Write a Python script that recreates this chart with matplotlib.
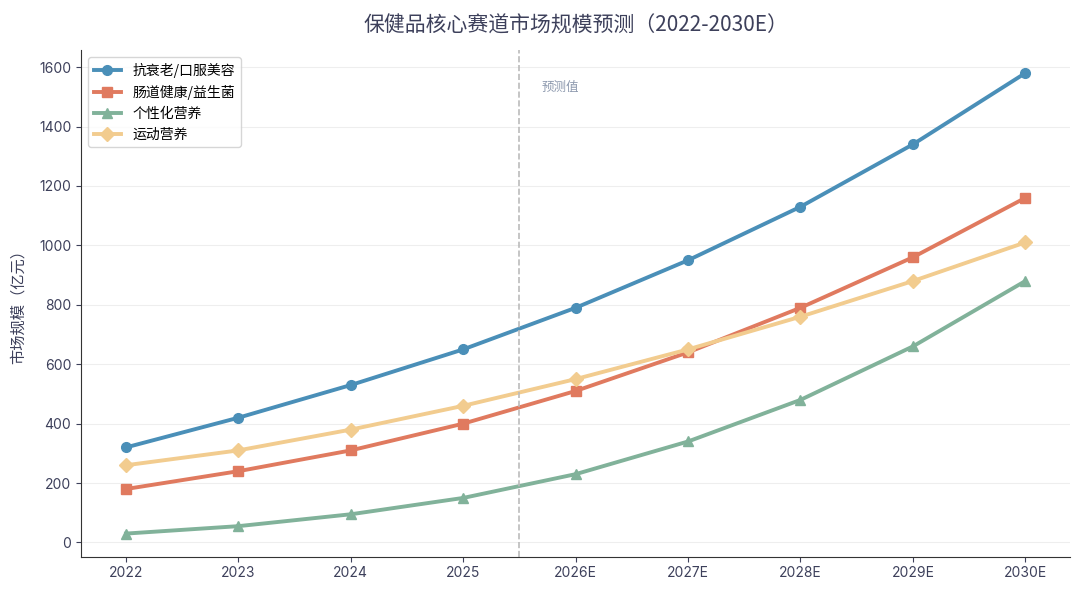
import matplotlib
matplotlib.use("Agg")
import matplotlib.pyplot as plt

plt.rcParams['font.family'] = ['Inter', 'Noto Sans CJK SC', 'DejaVu Sans']

years = ["2022", "2023", "2024", "2025", "2026E", "2027E", "2028E", "2029E", "2030E"]
anti_aging = [320, 420, 530, 650, 790, 950, 1130, 1340, 1580]
gut_health = [180, 240, 310, 400, 510, 640, 790, 960, 1160]
personalized = [30, 55, 95, 150, 230, 340, 480, 660, 880]
sports = [260, 310, 380, 460, 550, 650, 760, 880, 1010]

series = [
    ("抗衰老/口服美容", anti_aging, "#4A8FB8", "o"),
    ("肠道健康/益生菌", gut_health, "#E07A5F", "s"),
    ("个性化营养", personalized, "#81B29A", "^"),
    ("运动营养", sports, "#F2CC8F", "D"),
]

fig, ax = plt.subplots(figsize=(10.8, 5.89), dpi=100)
fig.subplots_adjust(left=0.075, right=0.991, top=0.915, bottom=0.055)

x = list(range(len(years)))
for label, vals, color, marker in series:
    ax.plot(x, vals, color=color, marker=marker, markersize=7, linewidth=2.8, label=label)

ax.axvline(3.5, color="#BBBBBB", linestyle="--", linewidth=1.2)
ax.text(3.7, 1520, "预测值", color="#8D99AE", fontsize=9,
        family=['Noto Sans CJK SC', 'DejaVu Sans'])

ax.set_xticks(x)
ax.set_xticklabels(years)
ax.set_yticks(range(0, 1601, 200))
ax.tick_params(colors="#3D405B", labelsize=10)
ax.set_ylabel("市场规模（亿元）", color="#3D405B", fontsize=11,
              family=['Noto Sans CJK SC', 'DejaVu Sans'])
ax.yaxis.set_label_coords(-0.055, 0.5)
ax.set_title("保健品核心赛道市场规模预测（2022-2030E）", color="#3D405B", fontsize=15, pad=13,
             family=['Noto Sans CJK SC', 'DejaVu Sans'])
ax.grid(axis="y", color="#EEEEEE", linewidth=0.8)
ax.set_axisbelow(True)
for s in ["top", "right"]:
    ax.spines[s].set_visible(False)
ax.spines["left"].set_color("#333333")
ax.spines["bottom"].set_color("#333333")

leg = ax.legend(loc="upper left", frameon=True,
                prop={'family': ['Noto Sans CJK SC', 'DejaVu Sans'], 'size': 10})
leg.get_frame().set_edgecolor("#CCCCCC")

fig.savefig("out.png", dpi=100)
